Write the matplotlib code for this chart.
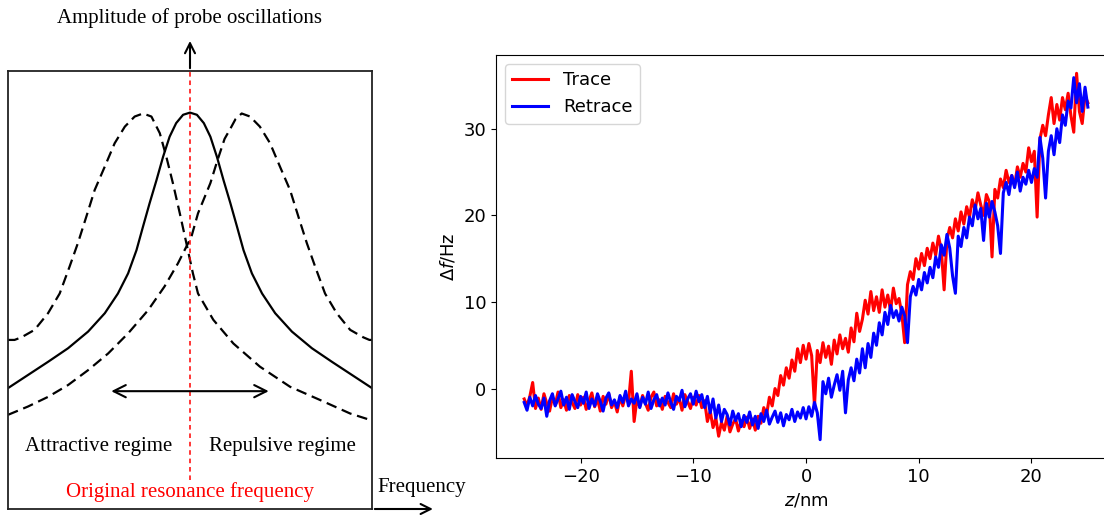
import numpy as np
import matplotlib.pyplot as plt

# ---- left panel: schematic resonance curves (frequency / amplitude, box units 0..1)
solid_f = [0.0, 0.055, 0.110, 0.165, 0.220, 0.266, 0.302, 0.330, 0.353, 0.371, 0.389, 0.408,
           0.426, 0.444, 0.462, 0.481, 0.5, 0.519, 0.538, 0.556, 0.574, 0.592, 0.611, 0.629,
           0.647, 0.670, 0.698, 0.734, 0.780, 0.835, 0.890, 0.945, 1.0]
solid_a = [0.276, 0.306, 0.336, 0.367, 0.405, 0.447, 0.492, 0.538, 0.591, 0.645, 0.698, 0.751,
           0.804, 0.850, 0.881, 0.900, 0.905, 0.900, 0.881, 0.850, 0.804, 0.751, 0.698, 0.645,
           0.591, 0.538, 0.492, 0.447, 0.405, 0.367, 0.336, 0.306, 0.276]

attr_f = [0.0, 0.018, 0.037, 0.073, 0.110, 0.142, 0.169, 0.192, 0.215, 0.238, 0.266, 0.293,
          0.321, 0.348, 0.371, 0.394, 0.417, 0.435, 0.453, 0.472, 0.490, 0.508, 0.522, 0.564,
          0.619, 0.692, 0.775, 0.857, 0.940, 1.0]
attr_a = [0.386, 0.386, 0.392, 0.409, 0.447, 0.492, 0.553, 0.607, 0.667, 0.728, 0.782, 0.835,
          0.873, 0.896, 0.903, 0.896, 0.858, 0.804, 0.744, 0.675, 0.607, 0.538, 0.492, 0.432,
          0.378, 0.325, 0.279, 0.249, 0.218, 0.202]

rep_f = [0.0, 0.055, 0.11, 0.165, 0.22, 0.275, 0.33, 0.385, 0.43, 0.467, 0.504, 0.522,
         0.556, 0.575, 0.595, 0.612, 0.625, 0.642, 0.665, 0.692, 0.72, 0.747, 0.775, 0.798,
         0.821, 0.844, 0.871, 0.903, 0.94, 0.976, 0.993, 1.0]
rep_a = [0.215, 0.234, 0.256, 0.283, 0.317, 0.355, 0.401, 0.454, 0.508, 0.561, 0.622, 0.675,
         0.744, 0.795, 0.845, 0.870, 0.890, 0.903, 0.896, 0.873, 0.835, 0.782, 0.728, 0.667,
         0.607, 0.553, 0.492, 0.447, 0.409, 0.392, 0.386, 0.386]

# ---- right panel: frequency shift vs z (step 0.25 nm)
z = np.arange(-25.0, 25.01, 0.25)
trace = [
    -1.2, -2.0, -0.9, 0.7, -2.3, -1.1, -2.4, -0.6, -1.7, -2.6, -1.0, -1.9, -0.4, -2.2, -1.3, -2.5, -0.8, -1.6, -2.3, -0.7,
    -1.9, -1.0, -2.4, -1.4, -0.5, -2.1, -1.2, -2.6, -0.9, -1.8, -0.6, -2.2, -1.5, -2.7, -1.0, -2.0, -0.7, -1.6, 2.0, -3.8,
    -1.2, -2.1, -0.8, -1.7, -2.5, -1.0, -0.4, -2.0, -1.3, -2.4, -0.9, -1.6, -2.2, -0.6, -1.8, -1.1, -2.5, -0.7, -1.5, -2.3,
    -1.0, -1.9, -0.8, -2.2, -1.4, -3.8, -2.6, -4.5, -3.4, -5.5, -3.9, -4.8, -3.2, -5.0, -4.1, -3.5, -4.9, -3.7, -4.4, -3.3,
    -4.6, -3.5, -4.8, -3.2, -4.0, -2.2, -3.0, -1.0, -2.0, 0.0, -0.8, 1.5, 0.4, 2.4, 1.2, 3.3, 2.0, 4.6, 3.0, 5.0,
    3.4, 5.2, 3.8, -2.0, 4.4, 3.0, 5.3, 3.6, 4.9, 2.8, 5.6, 4.0, 6.2, 4.6, 5.8, 4.2, 7.0, 5.4, 8.7, 6.6,
    8.0, 10.2, 8.6, 11.2, 9.0, 10.6, 8.8, 11.4, 9.4, 10.8, 9.0, 11.6, 9.8, 10.4, 8.6, 5.3, 12.0, 13.5, 12.6, 15.0,
    13.8, 15.6, 14.2, 16.2, 15.0, 16.8, 15.4, 17.6, 16.0, 11.4, 17.2, 18.6, 17.4, 19.6, 18.2, 20.4, 19.0, 21.0, 19.8, 21.8,
    20.6, 22.6, 21.2, 20.0, 22.4, 21.6, 15.2, 23.0, 22.0, 24.2, 23.2, 25.2, 23.8, 24.6, 23.4, 25.6, 24.4, 26.0, 25.0, 27.8,
    26.2, 27.4, 19.8, 28.8, 30.4, 29.2, 31.6, 33.6, 30.6, 32.8, 31.0, 33.6, 32.2, 34.1, 31.5, 29.6, 36.4, 32.0, 30.6, 33.8,
    33.0]
retrace = [
    -1.6, -2.5, -1.0, -2.0, -0.8, -1.8, -2.3, -1.1, -3.2, -1.4, -0.6, -2.0, -1.2, -0.3, -1.9, -1.0, -2.4, -0.7, -1.5, -2.2,
    -0.9, -1.7, -0.4, -2.3, -1.2, -2.0, -0.6, -1.5, -2.6, -1.1, -0.5, -1.9, -1.3, -2.2, -0.8, -1.6, -0.3, -2.0, -1.2, -1.7,
    -0.6, -2.2, -1.0, -1.8, -0.4, -2.3, -1.3, -0.7, -2.0, -1.1, -1.9, -0.5, -1.6, -2.4, -0.9, -1.4, -0.2, -2.1, -1.2, -0.6,
    -1.8, -0.3, -1.5, -0.7, -2.2, -0.9, -2.8, -1.2, -3.4, -1.9, -3.8, -2.4, -3.0, -4.2, -2.6, -3.7, -2.9, -4.4, -3.1, -3.9,
    -2.7, -4.2, -3.2, -4.6, -2.9, -3.8, -2.5, -4.1, -3.3, -2.6, -3.9, -2.8, -4.3, -3.0, -3.6, -2.4, -3.8, -2.7, -3.4, -2.2,
    -3.5, -2.1, -3.2, -1.6, -2.8, -5.9, 0.8, -0.6, 1.2, -1.0, 0.4, 1.6, -0.2, 2.0, -2.8, 1.0, 2.4, 0.9, 3.4, 1.8,
    4.6, 2.4, 5.2, 3.6, 6.4, 5.0, 7.6, 6.2, 8.8, 7.4, 9.6, 8.2, 9.0, 7.8, 9.4, 8.4, 5.3, 10.6, 11.8, 10.8,
    12.6, 11.4, 13.4, 12.2, 14.0, 12.8, 15.2, 14.0, 16.6, 15.4, 17.8, 16.2, 13.0, 11.0, 17.6, 16.4, 18.6, 17.4, 19.8, 18.8,
    21.2, 19.6, 20.8, 17.1, 21.4, 19.8, 21.6, 20.4, 18.8, 15.6, 22.6, 23.8, 22.4, 24.6, 23.2, 25.0, 22.8, 24.4, 23.6, 25.2,
    23.8, 25.4, 24.4, 29.0, 26.6, 22.0, 27.4, 29.2, 27.0, 30.0, 28.4, 31.6, 30.4, 33.2, 32.4, 35.9, 33.0, 35.2, 32.0, 34.8,
    32.5]

fig = plt.figure(figsize=(11.04, 5.15), dpi=100)

# left schematic
serif = "Liberation Serif"
axl = fig.add_axes([0.00725, 0.01165, 0.3297, 0.8505])
axl.set_xlim(0, 1)
axl.set_ylim(0, 1)
axl.set_xticks([])
axl.set_yticks([])
for s in axl.spines.values():
    s.set_linewidth(1.3)
    s.set_color("#222222")

axl.plot(solid_f, solid_a, color="black", lw=1.6)
axl.plot(attr_f, attr_a, color="black", lw=1.6, dashes=(4.8, 2.6))
axl.plot(rep_f, rep_a, color="black", lw=1.6, dashes=(4.8, 2.6))
axl.plot([0.5, 0.5], [0.066, 1.0], color="red", lw=1.1, dashes=(3, 2.5))

axl.annotate("", xy=(0.5, 1.075), xytext=(0.5, 1.0), annotation_clip=False,
             arrowprops=dict(arrowstyle="->", lw=1.5, color="black", mutation_scale=18))
axl.annotate("", xy=(1.175, 0.0), xytext=(1.0, 0.0), annotation_clip=False,
             arrowprops=dict(arrowstyle="->", lw=1.5, color="black", mutation_scale=18))
axl.annotate("", xy=(0.276, 0.269), xytext=(0.724, 0.269),
             arrowprops=dict(arrowstyle="<->", lw=1.5, color="black", mutation_scale=22))

axl.text(0.5, 1.121, "Amplitude of probe oscillations", ha="center", va="center",
         fontsize=15, family=serif, clip_on=False)
axl.text(1.016, 0.05, "Frequency", ha="left", va="center", fontsize=15, family=serif,
         clip_on=False)
axl.text(0.25, 0.142, "Attractive regime", ha="center", va="center", fontsize=15, family=serif)
axl.text(0.755, 0.142, "Repulsive regime", ha="center", va="center", fontsize=15, family=serif)
axl.text(0.5, 0.039, "Original resonance frequency", ha="center", va="center",
         fontsize=15, family=serif, color="red")

# right data plot (its right edge runs past the figure, as in the cropped original)
axr = fig.add_axes([0.4493, 0.1107, 0.5616, 0.7825])
axr.plot(z, trace, color="red", lw=2.2, label="Trace")
axr.plot(z, retrace, color="blue", lw=2.2, label="Retrace")
axr.set_xlim(-27.5, 27.5)
axr.set_xticks([-20, -10, 0, 10, 20])
axr.set_yticks([0, 10, 20, 30])
axr.tick_params(labelsize=13)
axr.set_xlabel(r"$z$/nm", fontsize=13)
axr.set_ylabel(r"$\Delta f$/Hz", fontsize=13)
axr.legend(loc="upper left", fontsize=13)

fig.savefig("out.png", dpi=100)
